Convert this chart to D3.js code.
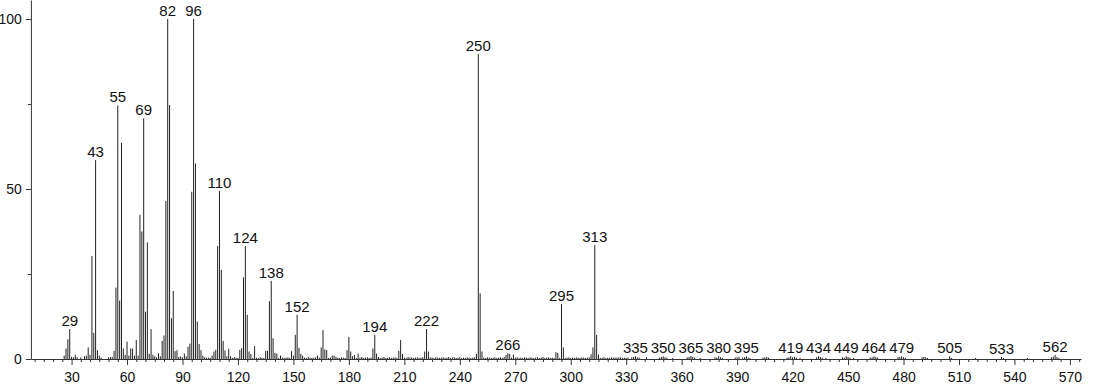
<!DOCTYPE html>
<html lang="en">
<head>
<meta charset="utf-8">
<title>Mass spectrum</title>
<style>
  html, body { margin: 0; padding: 0; background: #fff; }
  text { font-family: "Liberation Sans", Arial, sans-serif; fill: #111; }
  .peak { stroke: #222; stroke-width: 1px; }
  .axis path, .axis line { stroke: #333; }
</style>
</head>
<body>
<div id="chart"></div>
<script src="https://d3js.org/d3.v7.min.js"></script>
<script>
// m/z and relative intensity of the main peaks
var peaks = [
  [26,1.0],[27,3.1],[28,5.8],[29,8.8],[30,0.6],[31,0.5],[32,1.2],[33,0.6],[35,0.5],[37,0.8],
  [38,1.0],[39,3.4],[40,1.2],[41,30.3],[42,7.7],[43,58.5],[44,2.6],[45,1.0],[46,0.4],[50,0.5],
  [51,0.6],[52,0.6],[53,2.4],[54,21],[55,74.6],[56,17.2],[57,63.6],[58,3.1],[59,1.2],[60,5.1],
  [61,1.0],[62,3.1],[63,3.1],[64,1.0],[65,5.6],[66,1.0],[67,42.4],[68,37.5],[69,70.8],[70,13.9],
  [71,34.3],[72,1.5],[73,8.8],[74,1.2],[75,0.8],[76,0.5],[77,1.7],[78,0.8],[79,5.3],[80,6.9],
  [81,46.5],[82,100],[83,74.7],[84,12],[85,20],[86,2.3],[87,2.6],[88,0.6],[89,0.8],[90,0.4],
  [91,1.6],[92,0.8],[93,3.6],[94,4.5],[95,49.2],[96,100],[97,57.5],[98,11],[99,4.4],[100,2.6],
  [101,1.0],[106,1.0],[107,2.2],[108,2.7],[109,33.2],[110,49.4],[111,26.2],[112,5.3],[113,2.5],
  [114,0.8],[115,3.0],[116,0.8],[121,2.7],[122,3.2],[123,24],[124,33.2],[125,13],[126,2.2],
  [127,1.5],[129,3.8],[135,2.4],[136,2.4],[137,17],[138,23],[139,6.1],[140,1.8],[141,1.6],
  [143,1.0],[149,2.3],[150,1.0],[151,7.1],[152,13],[153,3.3],[154,1.5],[155,1.0],[163,1.0],
  [165,3.4],[166,8.5],[167,2.8],[168,2.6],[171,1.0],[172,1.0],[179,2.6],[180,6.5],[181,2.2],
  [182,0.8],[183,1.2],[185,1.6],[193,3.1],[194,7.1],[195,1.6],[196,0.6],[207,2.4],[208,5.6],
  [209,1.5],[221,2.2],[222,8.8],[223,2.2],[249,1.5],[250,89.7],[251,19.3],[252,2.2],[265,1.2],
  [266,1.7],[267,1.5],[269,1.3],[292,2.0],[293,1.8],[295,16.2],[296,3.4],[311,1.4],[312,3.4],
  [313,33.5],[314,7.1],[315,1.3]
];

// baseline noise, one value per m/z starting at noiseStart
var noiseStart = 100;
var noise = [
  .3,.4,.5,.3,.4,.3,.5,.4,.3,.4,  .3,.4,.5,.4,.3,.5,.4,.3,.6,.4,
  .3,.5,.4,.3,.4,.5,.3,.4,.3,.5,  .4,.3,.5,.4,.3,.4,.5,.3,.4,.3,
  .5,.4,.3,.5,.4,.3,.4,.5,.3,.4,  .3,.5,.4,.3,.4,.5,.4,.3,.6,.4,
  .3,.4,.5,.3,.4,.5,.3,.4,.5,.3,  .4,.5,.3,.6,.4,.3,.5,.4,.3,.5,
  .4,.3,.5,.4,.3,.5,.4,.6,.3,.4,  .5,.3,.4,.5,.3,.4,.5,.3,.4,.6,
  .3,.4,.5,.3,.4,.5,.3,.4,.3,.5,  .4,.3,.6,.4,.5,.3,.4,.5,.3,.4,
  .5,.3,.4,.3,.5,.4,.3,.5,.4,.3,  .4,.5,.3,.4,.6,.3,.4,.5,.3,.4,
  .5,.3,.4,.3,.5,.4,.3,.4,.5,.3,  .4,.3,.5,.4,.3,.5,.4,.3,.4,.5,
  .3,.4,.5,.3,.6,.4,.3,.5,.4,.3,  .4,.5,.3,.4,.3,.5,.4,.3,.5,.4,
  .3,.4,.5,.3,.4,.6,.3,.4,.5,.3,  .4,.3,.5,.4,.3,.4,.5,.3,.4,.5,
  .3,.4,.3,.5,.4,.3,.5,.4,.3,.4,  .5,.3,.4,.3,.4,.5,.3,.4,.5,.3,
  .4,.3,.5,.4,.3,.4,.3,.5,.3,.4,  .3
];

// small peaks in the high mass tail
var tailPeaks = [
  [324,0.4],[326,0.5],[331,0.4],[333,0.5],[334,0.6],[335,0.8],[336,0.5],[337,0.4],[341,0.5],
  [348,0.4],[349,0.6],[350,0.8],[351,0.5],[352,0.4],[355,0.3],[363,0.5],[364,0.6],[365,0.9],
  [366,0.6],[367,0.4],[370,0.3],[378,0.5],[379,0.4],[380,0.8],[381,0.5],[382,0.3],[389,0.4],
  [390,0.5],[391,0.6],[393,0.4],[394,0.5],[395,0.8],[396,0.4],[397,0.3],[404,0.4],[405,0.5],
  [406,0.6],[407,0.4],[417,0.4],[418,0.5],[419,0.8],[420,0.5],[421,0.6],[422,0.4],[424,0.3],
  [433,0.5],[434,0.8],[435,0.6],[436,0.4],[438,0.3],[447,0.5],[448,0.4],[449,0.8],[450,0.6],
  [451,0.4],[453,0.3],[462,0.4],[463,0.5],[464,0.8],[465,0.6],[466,0.4],[477,0.5],[478,0.6],
  [479,0.8],[480,0.5],[481,0.4],[490,0.5],[491,0.6],[492,0.5],[493,0.3],[505,0.8],[506,0.3],
  [519,0.3],[533,0.6],[534,0.3],[547,0.3],[560,0.5],[561,0.7],[562,1.2],[563,0.6],[564,0.3]
];

var labelled = [29,43,55,69,82,96,110,124,138,152,194,222,250,266,295,313,
  335,350,365,380,395,419,434,449,464,479,505,533,562];

var xMajor = d3.range(30, 571, 30);
var xMinor = d3.range(10, 576, 5).filter(function (d) { return d % 30 !== 0; });
var yMajor = [0, 50, 100];
var yMinor = [25, 75];

var width = 1094, height = 384;

// merge everything into one map m/z -> intensity
var spec = new Map();
noise.forEach(function (v, i) { spec.set(noiseStart + i, v); });
tailPeaks.forEach(function (d) { spec.set(d[0], d[1]); });
peaks.forEach(function (d) { spec.set(d[0], d[1]); });
var data = Array.from(spec, function (e) { return {mz: e[0], i: e[1]}; });

var x = d3.scaleLinear().domain([8, 576]).range([30.9, 1081]);
var y = d3.scaleLinear().domain([0, 105.6]).range([359, 0]);

var svg = d3.select("#chart")
  .append("svg")
  .attr("width", width)
  .attr("height", height);

svg.append("g")
  .selectAll("line")
  .data(data)
  .enter()
  .append("line")
  .attr("class", "peak")
  .attr("x1", function (d) { return x(d.mz); })
  .attr("x2", function (d) { return x(d.mz); })
  .attr("y1", y(0))
  .attr("y2", function (d) { return y(d.i); });

// x axis
svg.append("g")
  .attr("class", "axis")
  .attr("transform", "translate(0," + y(0) + ")")
  .call(d3.axisBottom(x).tickValues(xMinor).tickSize(3).tickSizeOuter(0).tickFormat(""))
  .call(function (g) { g.select(".domain").remove(); });

svg.append("g")
  .attr("class", "axis")
  .attr("transform", "translate(0," + y(0) + ")")
  .call(d3.axisBottom(x).tickValues(xMajor).tickSize(6).tickSizeOuter(0).tickPadding(7))
  .call(function (g) { g.selectAll("text").style("font-size", "14px").attr("fill", "#111"); });

// y axis
svg.append("g")
  .attr("class", "axis")
  .attr("transform", "translate(" + x(8) + ",0)")
  .call(d3.axisLeft(y).tickValues(yMinor).tickSize(3).tickSizeOuter(0).tickFormat(""))
  .call(function (g) { g.select(".domain").remove(); });

svg.append("g")
  .attr("class", "axis")
  .attr("transform", "translate(" + x(8) + ",0)")
  .call(d3.axisLeft(y).tickValues(yMajor).tickSize(5).tickSizeOuter(0).tickPadding(4))
  .call(function (g) { g.selectAll("text").style("font-size", "14px").attr("fill", "#111"); });

// peak labels
svg.append("g")
  .selectAll("text")
  .data(labelled)
  .enter()
  .append("text")
  .attr("x", function (d) { return x(d); })
  .attr("y", function (d) { return y(spec.get(d)) - 3; })
  .attr("text-anchor", "middle")
  .style("font-size", "15px")
  .text(function (d) { return d; });
</script>
</body>
</html>
